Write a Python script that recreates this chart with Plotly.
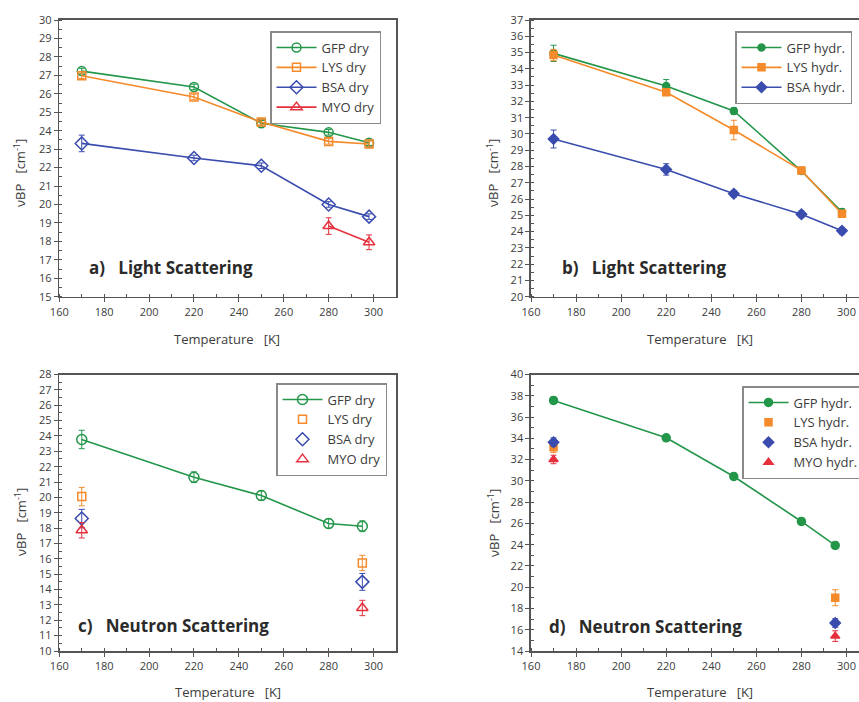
import plotly.graph_objects as go

# ---------------- data ----------------
T_LS = [170, 220, 250, 280, 298]
T_NS = [170, 220, 250, 280, 295]
T_NS_PTS = [170, 295]
T_MYO_LS = [280, 298]

# a) Light scattering, dry
a_gfp = [27.23, 26.37, 24.40, 23.91, 23.35]
a_gfp_err = [0.15, 0.15, 0.15, 0.15, 0.15]
a_lys = [26.98, 25.83, 24.47, 23.42, 23.28]
a_lys_err = [0.15, 0.15, 0.15, 0.15, 0.15]
a_bsa = [23.31, 22.52, 22.10, 20.00, 19.34]
a_bsa_err = [0.45, 0.15, 0.15, 0.15, 0.15]
a_myo = [18.83, 17.95]
a_myo_err = [0.45, 0.40]

# b) Light scattering, hydrated
b_gfp = [34.95, 32.94, 31.41, 27.72, 25.20]
b_gfp_err = [0.50, 0.40, 0.20, 0.20, 0.20]
b_lys = [34.85, 32.56, 30.24, 27.76, 25.10]
b_lys_err = [0.35, 0.20, 0.60, 0.20, 0.20]
b_bsa = [29.69, 27.82, 26.33, 25.06, 24.05]
b_bsa_err = [0.55, 0.35, 0.20, 0.20, 0.20]

# c) Neutron scattering, dry
c_gfp = [23.77, 21.31, 20.12, 18.30, 18.12]
c_gfp_err = [0.60, 0.35, 0.30, 0.30, 0.35]
c_lys = [20.05, 15.73]
c_lys_err = [0.60, 0.50]
c_bsa = [18.62, 14.50]
c_bsa_err = [0.60, 0.55]
c_myo = [17.86, 12.80]
c_myo_err = [0.50, 0.50]

# d) Neutron scattering, hydrated
d_gfp = [37.56, 34.05, 30.41, 26.18, 23.93]
d_gfp_err = [0.30, 0.30, 0.30, 0.30, 0.30]
d_lys = [33.17, 19.01]
d_lys_err = [0.50, 0.75]
d_bsa = [33.64, 16.63]
d_bsa_err = [0.40, 0.40]
d_myo = [32.01, 15.40]
d_myo_err = [0.40, 0.50]

X_TICKS = [160, 180, 200, 220, 240, 260, 280, 300]

# ---------------- style ----------------
W, H = 859, 702
GREEN = "#23964a"
ORANGE = "#f58a2b"
BLUE = "#3a4cae"
RED = "#e5313d"
AXC = "#555555"
TXT = "#3c3c3c"
FONT = "Open Sans"


def px(x):
    return x / W


def py(y):
    return 1 - y / H


fig = go.Figure()


def add(x, y, err, name, color, symbol, size, mode, xa, ya, legend):
    fig.add_trace(go.Scatter(
        x=x, y=y, name=name, mode=mode, xaxis=xa, yaxis=ya, legend=legend,
        line=dict(color=color, width=1.6),
        marker=dict(color=color, symbol=symbol, size=size,
                    line=dict(color=color, width=1.5)),
        error_y=dict(type="data", array=err, color=color, thickness=1, width=3),
    ))


# panel a
add(T_LS, a_gfp, a_gfp_err, "GFP dry", GREEN, "circle-open", 9, "lines+markers", "x", "y", "legend")
add(T_LS, a_lys, a_lys_err, "LYS dry", ORANGE, "square-open", 8, "lines+markers", "x", "y", "legend")
add(T_LS, a_bsa, a_bsa_err, "BSA dry", BLUE, "diamond-open", 10, "lines+markers", "x", "y", "legend")
add(T_MYO_LS, a_myo, a_myo_err, "MYO dry", RED, "triangle-up-open", 10, "lines+markers", "x", "y", "legend")
# panel b
add(T_LS, b_gfp, b_gfp_err, "GFP hydr.", GREEN, "circle", 7, "lines+markers", "x2", "y2", "legend2")
add(T_LS, b_lys, b_lys_err, "LYS hydr.", ORANGE, "square", 7, "lines+markers", "x2", "y2", "legend2")
add(T_LS, b_bsa, b_bsa_err, "BSA hydr.", BLUE, "diamond", 8, "lines+markers", "x2", "y2", "legend2")
# panel c
add(T_NS, c_gfp, c_gfp_err, "GFP dry", GREEN, "circle-open", 10, "lines+markers", "x3", "y3", "legend3")
add(T_NS_PTS, c_lys, c_lys_err, "LYS dry", ORANGE, "square-open", 8, "markers", "x3", "y3", "legend3")
add(T_NS_PTS, c_bsa, c_bsa_err, "BSA dry", BLUE, "diamond-open", 10, "markers", "x3", "y3", "legend3")
add(T_NS_PTS, c_myo, c_myo_err, "MYO dry", RED, "triangle-up-open", 10, "markers", "x3", "y3", "legend3")
# panel d
add(T_NS, d_gfp, d_gfp_err, "GFP hydr.", GREEN, "circle", 8, "lines+markers", "x4", "y4", "legend4")
add(T_NS_PTS, d_lys, d_lys_err, "LYS hydr.", ORANGE, "square", 7, "markers", "x4", "y4", "legend4")
add(T_NS_PTS, d_bsa, d_bsa_err, "BSA hydr.", BLUE, "diamond", 8, "markers", "x4", "y4", "legend4")
add(T_NS_PTS, d_myo, d_myo_err, "MYO hydr.", RED, "triangle-up", 8, "markers", "x4", "y4", "legend4")

# ---------------- axes ----------------
LEFT_X = (59.3, 396.0)         # 160 -> 310 K
RIGHT_X0 = 531.0               # 160 K
RIGHT_PXK = (846.5 - 531.0) / 140.0
right_max = 160 + (W - RIGHT_X0) / RIGHT_PXK
TOP_Y = (20.0, 296.7)
BOT_Y = (374.5, 651.0)

tickfont = dict(family=FONT, size=11, color=TXT)


def xaxis(dom, rng, anchor, mirror=True):
    return dict(domain=dom, range=rng, anchor=anchor, tickvals=X_TICKS,
                ticks="outside", ticklen=4, tickwidth=1, tickcolor=AXC,
                minor=dict(ticks="inside", ticklen=3, dtick=10, tickcolor=AXC, tick0=160),
                showline=True, linecolor=AXC, linewidth=1.6, mirror=mirror,
                showgrid=False, zeroline=False, tickfont=tickfont, fixedrange=True,
                automargin=False)


def yaxis(dom, rng, dt, mdt, anchor, mirror=True):
    return dict(domain=dom, range=rng, anchor=anchor, dtick=dt, tick0=rng[0],
                ticks="outside", ticklen=4, tickwidth=1, tickcolor=AXC,
                minor=dict(ticks="inside", ticklen=3, dtick=mdt, tickcolor=AXC),
                showline=True, linecolor=AXC, linewidth=1.6, mirror=mirror,
                showgrid=False, zeroline=False, tickfont=tickfont, fixedrange=True,
                automargin=False)


def overlay_x(base, dom, rng, anchor):
    return dict(domain=dom, range=rng, anchor=anchor, overlaying=base, side="top",
                tickvals=X_TICKS, ticks="inside", ticklen=4, tickcolor=AXC,
                minor=dict(ticks="inside", ticklen=3, dtick=10, tickcolor=AXC, tick0=160),
                showticklabels=False, showline=False, showgrid=False, zeroline=False,
                automargin=False, fixedrange=True)


def overlay_y(base, dom, rng, dt, mdt, anchor):
    return dict(domain=dom, range=rng, anchor=anchor, overlaying=base, side="right",
                dtick=dt, tick0=rng[0], ticks="inside", ticklen=4, tickcolor=AXC,
                minor=dict(ticks="inside", ticklen=3, dtick=mdt, tickcolor=AXC),
                showticklabels=False, showline=False, showgrid=False, zeroline=False,
                automargin=False, fixedrange=True)


dom_lx = [px(LEFT_X[0]), px(LEFT_X[1])]
dom_rx = [px(RIGHT_X0), 1.0]
dom_ty = [py(TOP_Y[1]), py(TOP_Y[0])]
dom_by = [py(BOT_Y[1]), py(BOT_Y[0])]

fig.update_layout(
    xaxis=xaxis(dom_lx, [160, 310], "y"),
    yaxis=yaxis(dom_ty, [15, 30], 1, 0.5, "x"),
    xaxis2=xaxis(dom_rx, [160, right_max], "y2"),
    yaxis2=yaxis(dom_ty, [20, 37], 1, 0.5, "x2", mirror=False),
    xaxis3=xaxis(dom_lx, [160, 310], "y3"),
    yaxis3=yaxis(dom_by, [10, 28], 1, 0.5, "x3"),
    xaxis4=xaxis(dom_rx, [160, right_max], "y4"),
    yaxis4=yaxis(dom_by, [14, 40], 2, 1, "x4", mirror=False),
    xaxis5=overlay_x("x", dom_lx, [160, 310], "y"),
    yaxis5=overlay_y("y", dom_ty, [15, 30], 1, 0.5, "x"),
    xaxis6=overlay_x("x2", dom_rx, [160, right_max], "y2"),
    xaxis7=overlay_x("x3", dom_lx, [160, 310], "y3"),
    yaxis7=overlay_y("y3", dom_by, [10, 28], 1, 0.5, "x3"),
    xaxis8=overlay_x("x4", dom_rx, [160, right_max], "y4"),
)

legend_style = dict(bgcolor="rgba(255,255,255,1)", bordercolor="#8a8a8a", borderwidth=1.5,
                    font=dict(family=FONT, size=13, color=TXT), xanchor="left", yanchor="top",
                    tracegroupgap=0, itemwidth=40)
fig.update_layout(
    legend=dict(x=px(270), y=py(31), **legend_style),
    legend2=dict(x=px(735), y=py(31), **legend_style),
    legend3=dict(x=px(276), y=py(383), **legend_style),
    legend4=dict(x=px(742), y=py(386), **legend_style),
)

# ---------------- text ----------------
ytitle = "\u03bdBP\u00a0\u00a0\u00a0[cm<sup>-1</sup>]"
xtitle = "Temperature\u00a0\u00a0\u00a0[K]"
ann = []
for (x, y) in [(20, 173), (493, 173), (20, 522), (493, 523)]:
    ann.append(dict(text=ytitle, x=px(x), y=py(y), xref="paper", yref="paper",
                    textangle=-90, showarrow=False, xanchor="center", yanchor="middle",
                    font=dict(family=FONT, size=13, color=TXT)))
for (x, y) in [(227, 339), (700, 339), (228, 692), (700, 692)]:
    ann.append(dict(text=xtitle, x=px(x), y=py(y), xref="paper", yref="paper",
                    showarrow=False, xanchor="center", yanchor="middle",
                    font=dict(family=FONT, size=13, color=TXT)))
labels = [("a)\u00a0\u00a0\u00a0Light Scattering", 87, 267),
          ("b)\u00a0\u00a0\u00a0Light Scattering", 560, 267),
          ("c)\u00a0\u00a0\u00a0Neutron Scattering", 76, 625),
          ("d)\u00a0\u00a0\u00a0Neutron Scattering", 547, 626)]
for (t, x, y) in labels:
    ann.append(dict(text="<b>" + t + "</b>", x=px(x), y=py(y), xref="paper", yref="paper",
                    showarrow=False, xanchor="left", yanchor="middle",
                    font=dict(family=FONT, size=17, color="#2a2a2a")))

fig.update_layout(
    annotations=ann,
    width=W, height=H,
    margin=dict(l=0, r=0, t=0, b=0, pad=0, autoexpand=False),
    paper_bgcolor="white", plot_bgcolor="white",
    font=dict(family=FONT, color=TXT),
)

fig.write_html(
    "out.html",
    config={"displayModeBar": False, "staticPlot": True},
    post_script="document.body.style.margin='0';"
                "document.documentElement.style.overflow='hidden';",
)
